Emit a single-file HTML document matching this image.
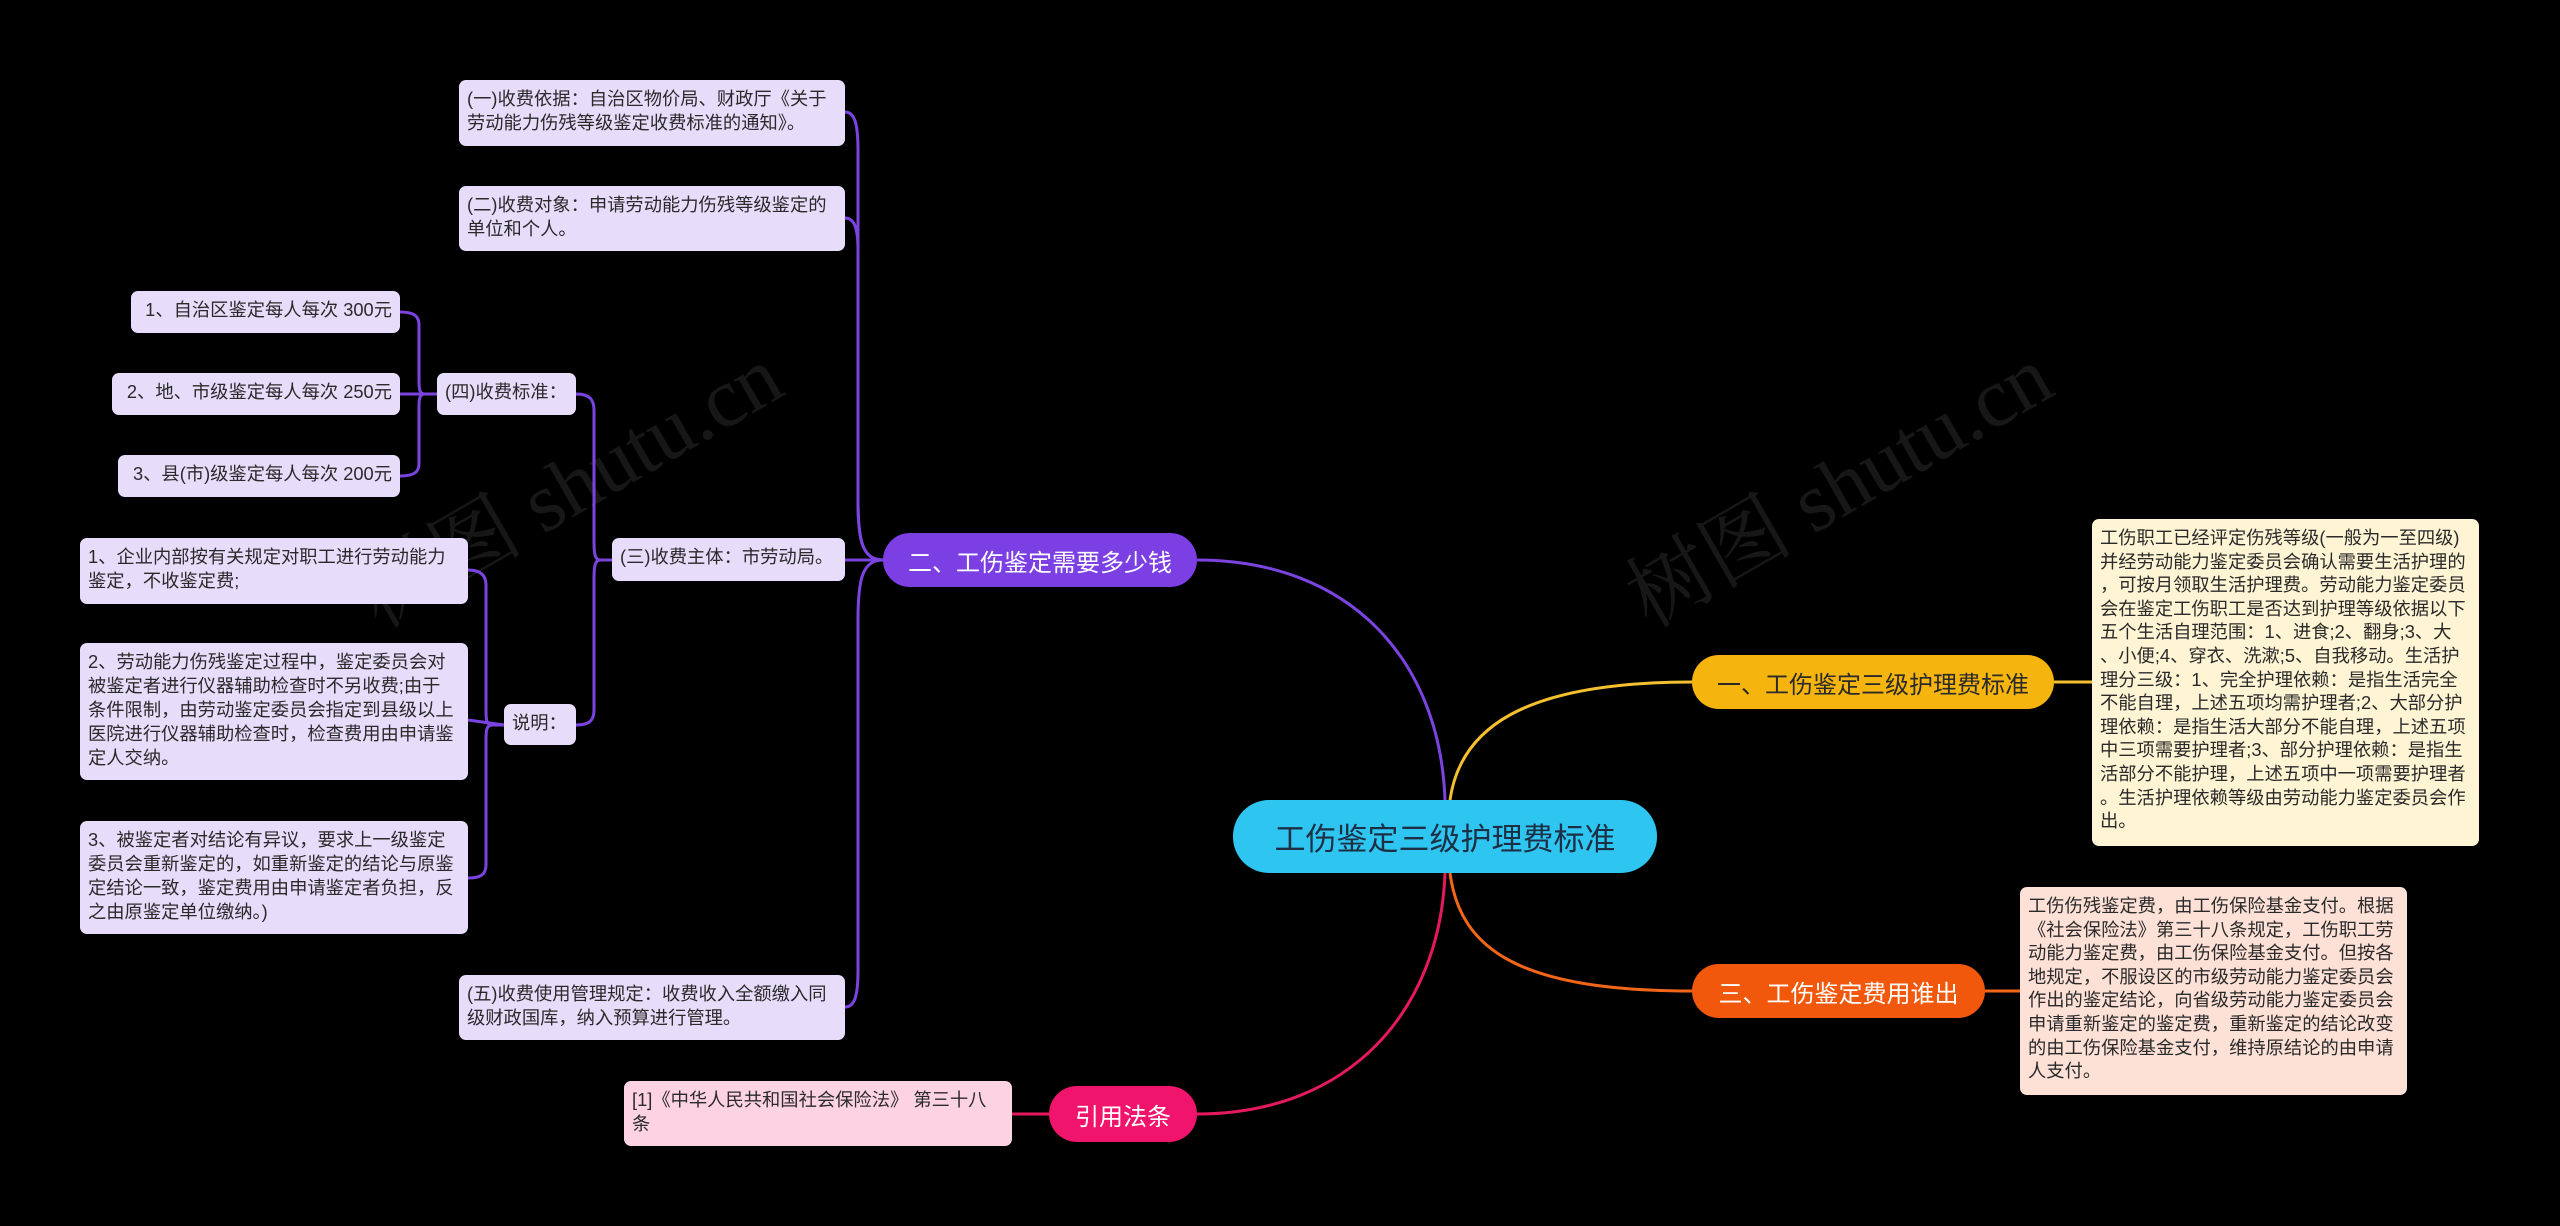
<!DOCTYPE html>
<html><head><meta charset="utf-8"><style>
body{margin:0;width:2560px;height:1226px;background:#000;overflow:hidden;position:relative;font-family:"Liberation Sans","Noto Sans CJK SC",sans-serif}
.b{position:absolute;box-sizing:border-box;border-radius:7px;font-size:18.3px;line-height:24px;color:#2a2a2a;padding:7px 8px;white-space:nowrap;overflow:hidden}
.p{background:#e8dcfb}
.m{position:absolute;box-sizing:border-box;border-radius:28px;color:#fff;font-size:24px;display:flex;align-items:center;justify-content:center;white-space:nowrap}
.wm{position:absolute;font-size:84px;color:#fff;opacity:0.09;transform:rotate(-30deg);font-family:"Liberation Serif","Noto Serif CJK SC",serif;white-space:nowrap}
svg{position:absolute;left:0;top:0}
</style></head><body>
<div class="wm" style="left:330px;top:420px">树图 shutu.cn</div>
<div class="wm" style="left:1600px;top:420px">树图 shutu.cn</div>
<svg width="2560" height="1226" fill="none" stroke-width="3">
<g stroke="#7b44e0">
<path d="M1445,800 C1440,660 1350,560 1197,560"/>
<path d="M883,560 C862,560 858,540 858,500 L858,150 C858,125 855,112 845,112"/>
<path d="M883,560 C862,560 858,540 858,500 L858,250 C858,230 855,218 845,218"/>
<path d="M883,560 L845,560"/>
<path d="M883,560 C862,560 858,580 858,620 L858,970 C858,995 855,1007 845,1007"/>
<path d="M612,560 L600,560 C594,560 594,550 594,540 L594,410 C594,400 590,394 576,394"/>
<path d="M612,560 L600,560 C594,560 594,570 594,580 L594,710 C594,720 590,725 576,725"/>
<path d="M437,394 L400,394"/>
<path d="M437,394 L425,394 C419,394 419,388 419,380 L419,325 C419,316 414,312 400,312"/>
<path d="M437,394 L425,394 C419,394 419,400 419,408 L419,464 C419,472 414,476 400,476"/>
<path d="M504,725 L492,725 C486,725 486,718 486,710 L486,585 C486,575 480,570 468,570"/>
<path d="M504,725 L468,720"/>
<path d="M504,725 L492,725 C486,725 486,732 486,740 L486,865 C486,875 480,878 468,878"/>
</g>
<path stroke="#e6195f" d="M1445,873 C1440,1010 1350,1114 1197,1114"/>
<path stroke="#e6195f" d="M1049,1114 L1012,1114"/>
<path stroke="#f5c030" d="M1450,800 C1460,730 1520,682 1692,682"/>
<path stroke="#f5c030" d="M2054,682 L2092,682"/>
<path stroke="#f2661a" d="M1450,873 C1460,950 1520,991 1692,991"/>
<path stroke="#f2661a" d="M1985,991 L2020,991"/>
</svg>

<div class="m" style="left:1233px;top:800px;width:424px;height:73px;background:#2ec5f0;color:#1d2f44;font-size:31px;border-radius:36px">工伤鉴定三级护理费标准</div>
<div class="m" style="left:883px;top:533px;width:314px;height:54px;background:#7b3fe4">二、工伤鉴定需要多少钱</div>
<div class="m" style="left:1049px;top:1086px;width:148px;height:56px;background:#f0146c">引用法条</div>
<div class="m" style="left:1692px;top:655px;width:362px;height:54px;background:#f5b50e;color:#2a2a2a">一、工伤鉴定三级护理费标准</div>
<div class="m" style="left:1692px;top:964px;width:293px;height:54px;background:#f2580c">三、工伤鉴定费用谁出</div>

<div class="b p" style="left:459px;top:80px;width:386px;height:66px">(一)收费依据：自治区物价局、财政厅《关于<br>劳动能力伤残等级鉴定收费标准的通知》。</div>
<div class="b p" style="left:459px;top:186px;width:386px;height:65px">(二)收费对象：申请劳动能力伤残等级鉴定的<br>单位和个人。</div>
<div class="b p" style="left:131px;top:291px;width:269px;height:42px;text-align:right">1、自治区鉴定每人每次 300元</div>
<div class="b p" style="left:112px;top:373px;width:288px;height:42px;text-align:right">2、地、市级鉴定每人每次 250元</div>
<div class="b p" style="left:118px;top:455px;width:282px;height:42px;text-align:right">3、县(市)级鉴定每人每次 200元</div>
<div class="b p" style="left:437px;top:373px;width:139px;height:42px">(四)收费标准：</div>
<div class="b p" style="left:612px;top:538px;width:233px;height:43px">(三)收费主体：市劳动局。</div>
<div class="b p" style="left:80px;top:538px;width:388px;height:66px">1、企业内部按有关规定对职工进行劳动能力<br>鉴定，不收鉴定费;</div>
<div class="b p" style="left:80px;top:643px;width:388px;height:137px">2、劳动能力伤残鉴定过程中，鉴定委员会对<br>被鉴定者进行仪器辅助检查时不另收费;由于<br>条件限制，由劳动鉴定委员会指定到县级以上<br>医院进行仪器辅助检查时，检查费用由申请鉴<br>定人交纳。</div>
<div class="b p" style="left:504px;top:704px;width:72px;height:41px">说明：</div>
<div class="b p" style="left:80px;top:821px;width:388px;height:113px">3、被鉴定者对结论有异议，要求上一级鉴定<br>委员会重新鉴定的，如重新鉴定的结论与原鉴<br>定结论一致，鉴定费用由申请鉴定者负担，反<br>之由原鉴定单位缴纳。)</div>
<div class="b p" style="left:459px;top:975px;width:386px;height:65px">(五)收费使用管理规定：收费收入全额缴入同<br>级财政国库，纳入预算进行管理。</div>
<div class="b" style="left:624px;top:1081px;width:388px;height:65px;background:#fdd3e4">[1]《中华人民共和国社会保险法》 第三十八<br>条</div>
<div class="b" style="left:2092px;top:519px;width:387px;height:327px;background:#fff4d4;line-height:23.6px">工伤职工已经评定伤残等级(一般为一至四级)<br>并经劳动能力鉴定委员会确认需要生活护理的<br>，可按月领取生活护理费。劳动能力鉴定委员<br>会在鉴定工伤职工是否达到护理等级依据以下<br>五个生活自理范围：1、进食;2、翻身;3、大<br>、小便;4、穿衣、洗漱;5、自我移动。生活护<br>理分三级：1、完全护理依赖：是指生活完全<br>不能自理，上述五项均需护理者;2、大部分护<br>理依赖：是指生活大部分不能自理，上述五项<br>中三项需要护理者;3、部分护理依赖：是指生<br>活部分不能护理，上述五项中一项需要护理者<br>。生活护理依赖等级由劳动能力鉴定委员会作<br>出。</div>
<div class="b" style="left:2020px;top:887px;width:387px;height:208px;background:#fde0d6;line-height:23.6px">工伤伤残鉴定费，由工伤保险基金支付。根据<br>《社会保险法》第三十八条规定，工伤职工劳<br>动能力鉴定费，由工伤保险基金支付。但按各<br>地规定，不服设区的市级劳动能力鉴定委员会<br>作出的鉴定结论，向省级劳动能力鉴定委员会<br>申请重新鉴定的鉴定费，重新鉴定的结论改变<br>的由工伤保险基金支付，维持原结论的由申请<br>人支付。</div>
</body></html>
